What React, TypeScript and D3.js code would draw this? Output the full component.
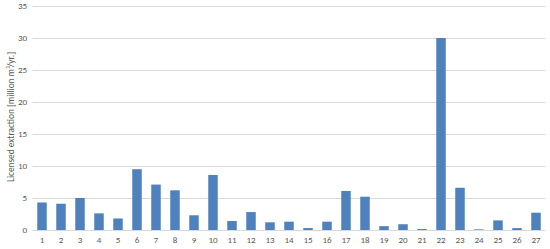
import React from "react";
import * as d3 from "d3";

const categories = Array.from({ length: 27 }, (_, i) => String(i + 1));
const values = [4.3, 4.1, 5.0, 2.6, 1.8, 9.5, 7.1, 6.2, 2.3, 8.6, 1.4, 2.8, 1.2, 1.3, 0.3, 1.3, 6.1, 5.2, 0.6, 0.9, 0.15, 30, 6.6, 0.1, 1.5, 0.3, 2.7];
const yTicks = [0, 5, 10, 15, 20, 25, 30, 35];
const yLabel = "Licensed extraction [million m³/yr.]";

export default function App() {
  const W = 550, H = 249;
  const left = 32.5, right = 545.5, top = 6, bottom = 230;
  const x = d3.scaleBand<string>().domain(categories).range([left, right]).paddingInner(0.5).paddingOuter(0.25);
  const y = d3.scaleLinear().domain([0, 35]).range([bottom, top]);
  const font = "Calibri, Carlito, 'Open Sans', sans-serif";
  return (
    <svg width={W} height={H} style={{ position: "absolute", left: 0, top: 0 }}>
      <rect width={W} height={H} fill="#fff" />
      {yTicks.map((t) => (
        <g key={t}>
          <line x1={left} x2={right} y1={Math.round(y(t)) + 0.5} y2={Math.round(y(t)) + 0.5} stroke="#d9d9d9" strokeWidth={1} />
          <text x={27} y={y(t)} dy="0.35em" textAnchor="end" fontSize={9} fill="#595959" fontFamily={font}>{t}</text>
        </g>
      ))}
      {values.map((v, i) => (
        <rect key={i} x={x(categories[i])!} width={x.bandwidth()} y={y(v)} height={bottom - y(v)} fill="#4f81bd" />
      ))}
      {categories.map((c) => (
        <text key={c} x={x(c)! + x.bandwidth() / 2} y={243} textAnchor="middle" fontSize={9} fill="#595959" fontFamily={font}>{c}</text>
      ))}
      <text transform={`translate(11,117) rotate(-90)`} textAnchor="middle" dy="0.35em" fontSize={9.5} fill="#595959" fontFamily={font} textLength={130} lengthAdjust="spacingAndGlyphs">{yLabel}</text>
    </svg>
  );
}
